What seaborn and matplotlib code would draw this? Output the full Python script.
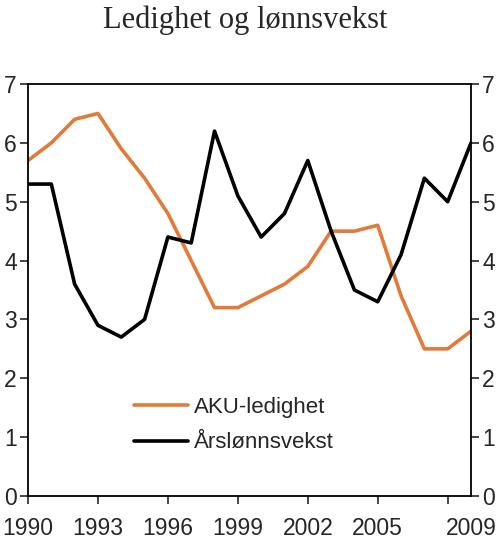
import seaborn as sns
import matplotlib.pyplot as plt
import pandas as pd

years = list(range(1990, 2010))
aku_ledighet = [5.7, 6.0, 6.4, 6.5, 5.9, 5.4, 4.8, 4.0, 3.2, 3.2,
                3.4, 3.6, 3.9, 4.5, 4.5, 4.6, 3.4, 2.5, 2.5, 2.8]
arslonnsvekst = [5.3, 5.3, 3.6, 2.9, 2.7, 3.0, 4.4, 4.3, 6.2, 5.1,
                 4.4, 4.8, 5.7, 4.5, 3.5, 3.3, 4.1, 5.4, 5.0, 6.0]
tick_years = [1990, 1993, 1996, 1999, 2002, 2005, 2009]

df = pd.DataFrame({"År": years, "AKU-ledighet": aku_ledighet, "Årslønnsvekst": arslonnsvekst})
long = df.melt(id_vars="År", var_name="serie", value_name="verdi")

sns.set_style("white")
plt.rcParams["font.family"] = ["Liberation Sans", "DejaVu Sans"]

fig = plt.figure(figsize=(5.0, 5.41), dpi=100)
ax = fig.add_axes([0.056, 0.0832, 0.886, 0.7615])

sns.lineplot(data=long, x="År", y="verdi", hue="serie",
             palette={"AKU-ledighet": "#E07B39", "Årslønnsvekst": "black"},
             linewidth=2.6, ax=ax)

ax.set_xlim(1990, 2009)
ax.set_ylim(0, 7)
ax.set_xlabel("")
ax.set_ylabel("")

ax.set_xticks(tick_years)
ax.set_xticks([2008], minor=True)
ax.set_xticklabels([str(y) for y in tick_years], fontsize=16.5)
ax.tick_params(axis="x", which="both", direction="out", length=6, width=1.2, bottom=True)
ax.tick_params(axis="x", which="major", pad=9)
for t in ax.xaxis.get_major_ticks():
    if t.get_loc() == 2009:
        t.tick1line.set_visible(False)

ax.set_yticks(range(0, 8))
ax.tick_params(axis="y", direction="out", length=6, width=1.2, left=True,
               right=True, labelleft=True, labelright=True, labelsize=16.5, pad=2)

for s in ax.spines.values():
    s.set_color("black")
    s.set_linewidth(1.3)

ax.legend(frameon=False, fontsize=16, loc="upper left",
          bbox_to_anchor=(0.22, 0.262), handlelength=2.4,
          handletextpad=0.3, labelspacing=0.65, borderaxespad=0)

fig.suptitle("Ledighet og lønnsvekst", x=0.49, y=0.99, fontsize=22,
             family=["Liberation Serif", "DejaVu Serif"])

fig.savefig("out.png", dpi=100)
